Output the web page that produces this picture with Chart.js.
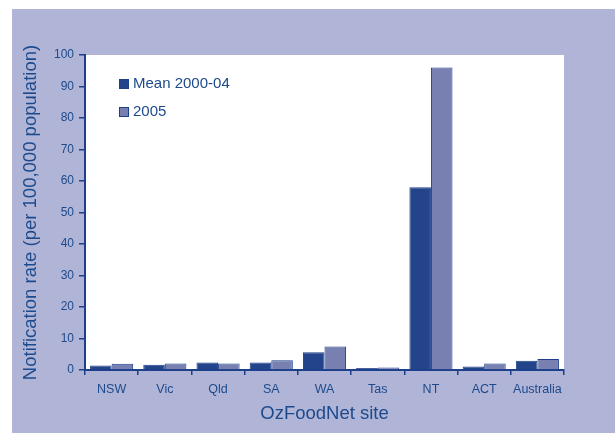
<!DOCTYPE html>
<html>
<head>
<meta charset="utf-8">
<script src="https://cdn.jsdelivr.net/npm/chart.js@4/dist/chart.umd.min.js"></script>
<style>
  html, body { margin: 0; padding: 0; background: #fff; }
  #wrap { position: absolute; left: 12px; top: 9px; width: 603px; height: 424px; background: #b0b4d6; }
  #chart { display: block; }
</style>
</head>
<body>
<div id="wrap"><canvas id="chart" width="603" height="424"></canvas></div>
<script>
var sites = ['NSW', 'Vic', 'Qld', 'SA', 'WA', 'Tas', 'NT', 'ACT', 'Australia'];
var mean0004 = [1.4, 1.7, 2.4, 2.4, 5.6, 0.6, 58, 1.1, 2.9];
var rate2005 = [2.0, 2.1, 2.1, 3.1, 7.5, 0.8, 96, 2.1, 3.5];
var seriesNames = ['Mean 2000-04', '2005'];

var ink = '#1d4a8c';
var axisBlue = '#1e3f8a';
var fillColors = ['#23438a', '#7880b2'];

Chart.defaults.font.family = '"Liberation Sans", Arial, sans-serif';
Chart.defaults.color = ink;

// white plot area
var plotBg = {
  id: 'plotBg',
  beforeDraw: function (chart) {
    var a = chart.chartArea, ctx = chart.ctx;
    ctx.save();
    ctx.fillStyle = '#ffffff';
    ctx.fillRect(a.left, a.top, a.right - a.left, a.bottom - a.top);
    ctx.restore();
  }
};

// legend drawn inside the plot, top left
var innerLegend = {
  id: 'innerLegend',
  afterDatasetsDraw: function (chart) {
    var ctx = chart.ctx;
    ctx.save();
    ctx.font = '15px "Liberation Sans", Arial, sans-serif';
    ctx.textBaseline = 'middle';
    chart.data.datasets.forEach(function (ds, i) {
      var y = 75 + i * 28;
      ctx.fillStyle = ds.backgroundColor;
      ctx.fillRect(107, y - 5, 10, 10);
      ctx.strokeStyle = axisBlue;
      ctx.lineWidth = 1;
      ctx.strokeRect(107.5, y - 4.5, 9, 9);
      ctx.fillStyle = ink;
      ctx.fillText(ds.label, 121, y);
    });
    ctx.restore();
  }
};

new Chart(document.getElementById('chart'), {
  type: 'bar',
  data: {
    labels: sites,
    datasets: [
      {
        label: seriesNames[0],
        data: mean0004,
        backgroundColor: fillColors[0],
        borderColor: axisBlue,
        borderWidth: 1,
        categoryPercentage: 0.81,
        barPercentage: 1
      },
      {
        label: seriesNames[1],
        data: rate2005,
        backgroundColor: fillColors[1],
        borderColor: axisBlue,
        borderWidth: 1,
        categoryPercentage: 0.81,
        barPercentage: 1
      }
    ]
  },
  options: {
    responsive: false,
    animation: false,
    layout: { padding: { left: 0, top: 46, right: 51, bottom: 0 } },
    plugins: {
      legend: { display: false },
      tooltip: { enabled: false }
    },
    scales: {
      x: {
        afterFit: function (s) { s.height = 63; },
        border: { display: true, color: axisBlue, width: 2 },
        grid: { drawOnChartArea: false, drawTicks: true, tickLength: 5, color: axisBlue, lineWidth: 1.5, offset: true },
        ticks: { font: { size: 12.5 }, color: ink, padding: 7, maxRotation: 0 },
        title: {
          display: true,
          text: 'OzFoodNet site',
          color: ink,
          font: { size: 18.5 },
          padding: { top: 0, bottom: 8 }
        }
      },
      y: {
        min: 0,
        max: 100,
        afterFit: function (s) { s.width = 73; },
        border: { display: true, color: axisBlue, width: 2 },
        grid: { drawOnChartArea: false, drawTicks: true, tickLength: 6, color: axisBlue, lineWidth: 1.5 },
        ticks: { stepSize: 10, font: { size: 12 }, color: ink, padding: 5 },
        title: {
          display: true,
          text: 'Notification rate (per 100,000 population)',
          color: ink,
          font: { size: 18.5 },
          padding: { top: 8, bottom: 0 }
        }
      }
    }
  },
  plugins: [plotBg, innerLegend]
});
</script>
</body>
</html>
